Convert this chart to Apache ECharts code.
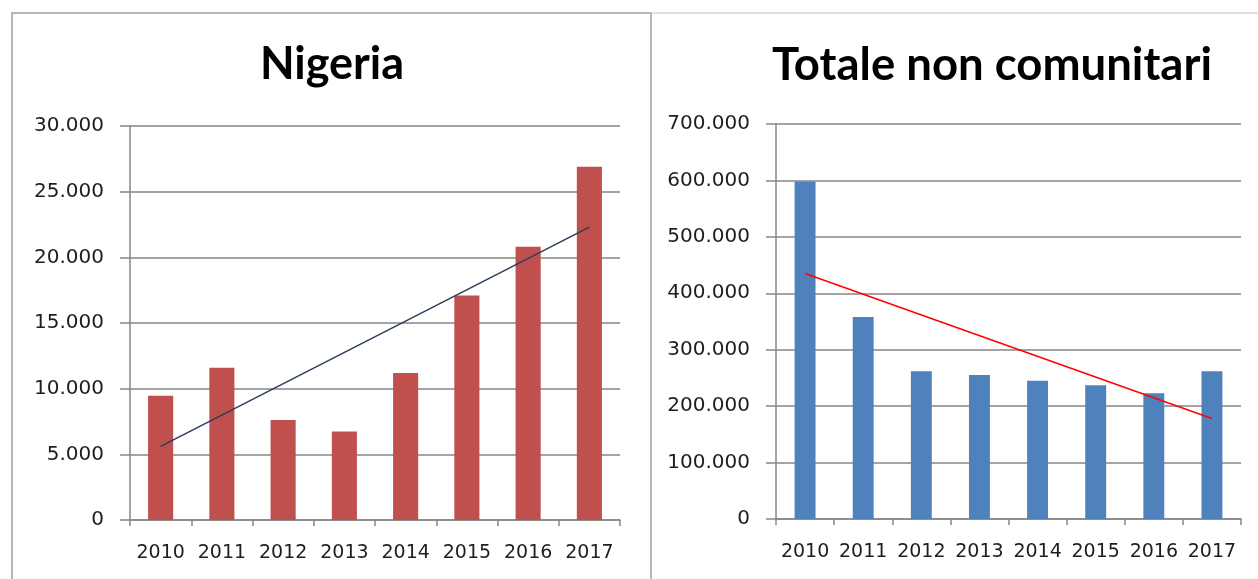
<!DOCTYPE html>
<html>
<head>
<meta charset="utf-8">
<title>Nigeria / Totale non comunitari</title>
<script src="https://cdn.jsdelivr.net/npm/echarts@6/dist/echarts.min.js"></script>
<style>
  html, body { margin: 0; padding: 0; background: #fff; }
  #chart { width: 1258px; height: 579px; }
</style>
</head>
<body>
<div id="chart"></div>
<script>
// anni
const years = ['2010', '2011', '2012', '2013', '2014', '2015', '2016', '2017'];

// valori
const nigeria = [9470, 11600, 7610, 6730, 11200, 17100, 20800, 26900];
const totaleNonComunitari = [598000, 358000, 262000, 255000, 245000, 237000, 223000, 262000];

// linee di tendenza (valore al 2010 e al 2017)
const trendNigeria = [5600, 22300];
const trendTotale = [435000, 178000];

// assi
const nigeriaAxis = { min: 0, max: 30000, interval: 5000 };
const totaleAxis = { min: 0, max: 700000, interval: 100000 };

const fmt = (v) => String(v).replace(/\B(?=(\d{3})+(?!\d))/g, '.');

const lineGrey = '#868686';
const labelFont = { fontFamily: 'DejaVu Sans', fontSize: 20, color: '#1e1e1e' };

const makeX = (gridIndex) => ({
  type: 'category',
  gridIndex: gridIndex,
  data: years,
  axisLine: { lineStyle: { color: lineGrey, width: 1.5 } },
  axisTick: { show: true, length: 6, lineStyle: { color: lineGrey, width: 1.5 } },
  axisLabel: Object.assign({ margin: 24, interval: 0 }, labelFont, { fontSize: 19 }),
  splitLine: { show: false }
});

const makeY = (gridIndex, ax) => ({
  type: 'value',
  gridIndex: gridIndex,
  min: ax.min,
  max: ax.max,
  interval: ax.interval,
  axisLine: { show: true, lineStyle: { color: lineGrey, width: 1.5 } },
  axisTick: { show: true, length: 10, lineStyle: { color: lineGrey, width: 1.5 } },
  axisLabel: Object.assign({ margin: 26, formatter: fmt }, labelFont),
  splitLine: { show: true, lineStyle: { color: lineGrey, width: 1.5 } }
});

const chart = echarts.init(document.getElementById('chart'), null, { renderer: 'canvas' });

chart.setOption({
  animation: false,
  backgroundColor: '#fff',
  title: [
    {
      text: 'Nigeria',
      left: 327,
      top: 37,
      textAlign: 'center',
      textStyle: { fontFamily: 'Lato', fontWeight: 'bold', fontSize: 45, color: '#000' }
    },
    {
      text: 'Totale non comunitari',
      left: 987,
      top: 37,
      textAlign: 'center',
      textStyle: { fontFamily: 'Lato', fontWeight: 'bold', fontSize: 45.5, color: '#000' }
    }
  ],
  graphic: [
    {
      type: 'rect',
      shape: { x: 12, y: 13, width: 639, height: 620 },
      style: { fill: 'none', stroke: '#a0a0a0', lineWidth: 1.5 },
      silent: true
    },
    {
      type: 'line',
      shape: { x1: 651, y1: 13, x2: 1258, y2: 13 },
      style: { stroke: '#d4d4d4', lineWidth: 1.5 },
      silent: true
    }
  ],
  grid: [
    { left: 130, right: 638, top: 126, bottom: 59 },
    { left: 776, right: 17, top: 124, bottom: 60 }
  ],
  xAxis: [makeX(0), makeX(1)],
  yAxis: [makeY(0, nigeriaAxis), makeY(1, totaleAxis)],
  series: [
    {
      name: 'Nigeria',
      type: 'bar',
      xAxisIndex: 0,
      yAxisIndex: 0,
      data: nigeria,
      barWidth: '41%',
      itemStyle: { color: '#c0504d' }
    },
    {
      name: 'Tendenza Nigeria',
      type: 'line',
      xAxisIndex: 0,
      yAxisIndex: 0,
      data: [[years[0], trendNigeria[0]], [years[years.length - 1], trendNigeria[1]]],
      symbol: 'none',
      lineStyle: { color: '#2b3d5c', width: 1.5 },
      z: 5
    },
    {
      name: 'Totale non comunitari',
      type: 'bar',
      xAxisIndex: 1,
      yAxisIndex: 1,
      data: totaleNonComunitari,
      barWidth: '36%',
      itemStyle: { color: '#4f81bd' }
    },
    {
      name: 'Tendenza totale',
      type: 'line',
      xAxisIndex: 1,
      yAxisIndex: 1,
      data: [[years[0], trendTotale[0]], [years[years.length - 1], trendTotale[1]]],
      symbol: 'none',
      lineStyle: { color: '#ff0000', width: 1.5 },
      z: 5
    }
  ]
});
</script>
</body>
</html>
